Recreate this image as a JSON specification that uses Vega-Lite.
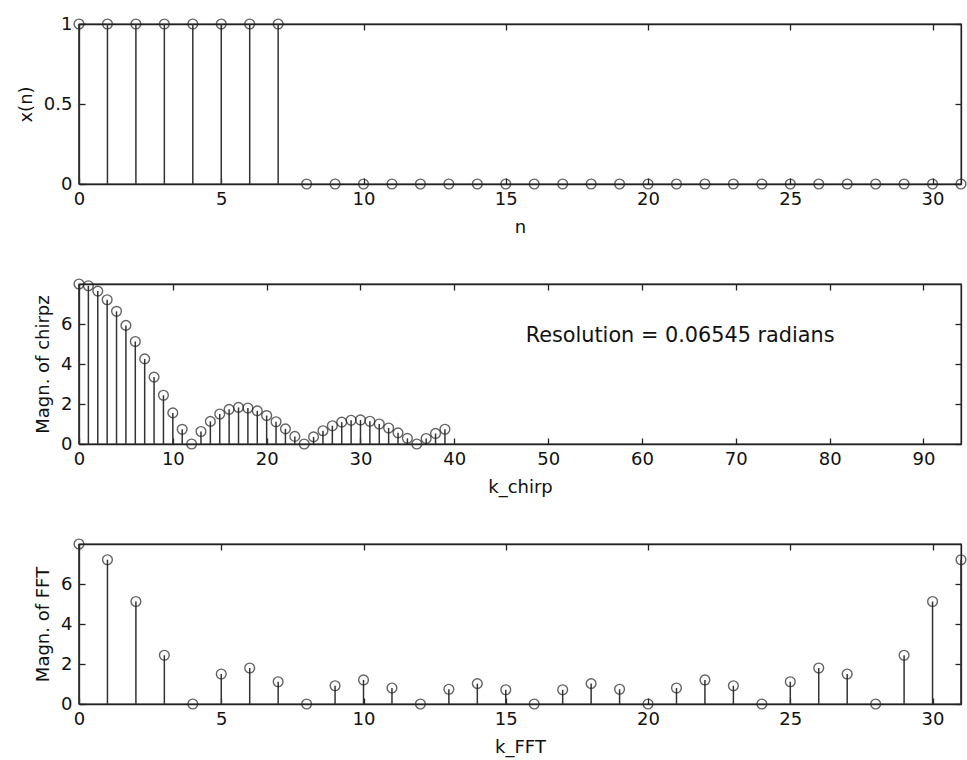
{
  "$schema": "https://vega.github.io/schema/vega-lite/v6.json",
  "background": "white",
  "padding": {"left": 16, "top": 14, "right": 0, "bottom": 2},
  "autosize": {"type": "pad"},
  "config": {
    "font": "DejaVu Sans",
    "view": {"stroke": "#222", "strokeWidth": 1.3},
    "axis": {
      "grid": false,
      "labelFont": "DejaVu Sans", "labelFontSize": 18, "labelColor": "#111",
      "titleFont": "DejaVu Sans", "titleFontSize": 18, "titleFontWeight": "normal", "titleColor": "#111",
      "domainColor": "#222", "domainWidth": 1.3, "tickColor": "#222", "tickWidth": 1.3, "tickSize": -6,
      "labelFlush": false, "labelOverlap": false, "labelBound": false
    },
    "axisX": {"labelPadding": 12, "titlePadding": 10},
    "axisY": {"labelPadding": 13, "titlePadding": 8}
  },
  "datasets": {
    "xn": [
      {"n":0,"x":1},{"n":1,"x":1},{"n":2,"x":1},{"n":3,"x":1},{"n":4,"x":1},{"n":5,"x":1},{"n":6,"x":1},{"n":7,"x":1},
      {"n":8,"x":0},{"n":9,"x":0},{"n":10,"x":0},{"n":11,"x":0},{"n":12,"x":0},{"n":13,"x":0},{"n":14,"x":0},{"n":15,"x":0},
      {"n":16,"x":0},{"n":17,"x":0},{"n":18,"x":0},{"n":19,"x":0},{"n":20,"x":0},{"n":21,"x":0},{"n":22,"x":0},{"n":23,"x":0},
      {"n":24,"x":0},{"n":25,"x":0},{"n":26,"x":0},{"n":27,"x":0},{"n":28,"x":0},{"n":29,"x":0},{"n":30,"x":0},{"n":31,"x":0}
    ],
    "cz": [
      {"k":0,"m":8.0},{"k":1,"m":7.9104},{"k":2,"m":7.6449},{"k":3,"m":7.2141},{"k":4,"m":6.6349},{"k":5,"m":5.9298},
      {"k":6,"m":5.1258},{"k":7,"m":4.2538},{"k":8,"m":3.3461},{"k":9,"m":2.4359},{"k":10,"m":1.5555},{"k":11,"m":0.7348},
      {"k":12,"m":0.0},{"k":13,"m":0.6271},{"k":14,"m":1.1305},{"k":15,"m":1.5},{"k":16,"m":1.7321},{"k":17,"m":1.8291},
      {"k":18,"m":1.8},{"k":19,"m":1.6583},{"k":20,"m":1.4226},{"k":21,"m":1.1146},{"k":22,"m":0.7583},{"k":23,"m":0.3786},
      {"k":24,"m":0.0},{"k":25,"m":0.3546},{"k":26,"m":0.665},{"k":27,"m":0.9147},{"k":28,"m":1.0916},{"k":29,"m":1.1883},
      {"k":30,"m":1.2027},{"k":31,"m":1.1374},{"k":32,"m":1.0},{"k":33,"m":0.8018},{"k":34,"m":0.5575},{"k":35,"m":0.2841},
      {"k":36,"m":0.0},{"k":37,"m":0.2765},{"k":38,"m":0.528},{"k":39,"m":0.7389}
    ],
    "fft": [
      {"k":0,"m":8.0},{"k":1,"m":7.2141},{"k":2,"m":5.1258},{"k":3,"m":2.4359},{"k":4,"m":0.0},{"k":5,"m":1.5},
      {"k":6,"m":1.8},{"k":7,"m":1.1146},{"k":8,"m":0.0},{"k":9,"m":0.9147},{"k":10,"m":1.2027},{"k":11,"m":0.8018},
      {"k":12,"m":0.0},{"k":13,"m":0.7389},{"k":14,"m":1.0196},{"k":15,"m":0.7105},{"k":16,"m":0.0},{"k":17,"m":0.7105},
      {"k":18,"m":1.0196},{"k":19,"m":0.7389},{"k":20,"m":0.0},{"k":21,"m":0.8018},{"k":22,"m":1.2027},{"k":23,"m":0.9147},
      {"k":24,"m":0.0},{"k":25,"m":1.1146},{"k":26,"m":1.8},{"k":27,"m":1.5},{"k":28,"m":0.0},{"k":29,"m":2.4359},
      {"k":30,"m":5.1258},{"k":31,"m":7.2141}
    ],
    "note": [{"k":47.6,"m":5.4,"t":"Resolution = 0.06545 radians"}]
  },
  "bounds": "flush",
  "spacing": 100,
  "vconcat": [
    {
      "width": 882, "height": 160,
      "data": {"name": "xn"},
      "layer": [
        {
          "mark": {"type": "rule", "color": "#333", "strokeWidth": 1.5},
          "encoding": {
            "x": {"field": "n", "type": "quantitative", "scale": {"domain": [0, 31], "nice": false, "zero": false},
                  "axis": {"orient": "bottom", "values": [0,5,10,15,20,25,30], "title": "n"}},
            "y": {"field": "x", "type": "quantitative", "scale": {"domain": [0, 1], "nice": false},
                  "axis": {"orient": "left", "values": [0,0.5,1], "format": "~g", "title": "x(n)"}},
            "y2": {"datum": 0}
          }
        },
        {
          "mark": {"type": "point", "shape": "circle", "filled": false, "size": 95, "color": "#222", "strokeWidth": 1.4},
          "encoding": {
            "x": {"field": "n", "type": "quantitative", "scale": {"domain": [0, 31], "nice": false, "zero": false},
                  "axis": {"orient": "top", "values": [0,5,10,15,20,25,30], "labels": false, "title": null}},
            "y": {"field": "x", "type": "quantitative", "scale": {"domain": [0, 1], "nice": false},
                  "axis": {"orient": "right", "values": [0,0.5,1], "labels": false, "title": null}}
          }
        }
      ],
      "resolve": {"axis": {"x": "independent", "y": "independent"}}
    },
    {
      "width": 882, "height": 160,
      "layer": [
        {
          "data": {"name": "cz"},
          "mark": {"type": "rule", "color": "#333", "strokeWidth": 1.5},
          "encoding": {
            "x": {"field": "k", "type": "quantitative", "scale": {"domain": [0, 94], "nice": false, "zero": false},
                  "axis": {"orient": "bottom", "values": [0,10,20,30,40,50,60,70,80,90], "title": "k_chirp"}},
            "y": {"field": "m", "type": "quantitative", "scale": {"domain": [0, 8], "nice": false},
                  "axis": {"orient": "left", "values": [0,2,4,6], "title": "Magn. of chirpz"}},
            "y2": {"datum": 0}
          }
        },
        {
          "data": {"name": "cz"},
          "mark": {"type": "point", "shape": "circle", "filled": false, "size": 95, "color": "#222", "strokeWidth": 1.4},
          "encoding": {
            "x": {"field": "k", "type": "quantitative", "scale": {"domain": [0, 94], "nice": false, "zero": false},
                  "axis": {"orient": "top", "values": [0,10,20,30,40,50,60,70,80,90], "labels": false, "title": null}},
            "y": {"field": "m", "type": "quantitative", "scale": {"domain": [0, 8], "nice": false},
                  "axis": {"orient": "right", "values": [0,2,4,6], "labels": false, "title": null}}
          }
        },
        {
          "data": {"name": "note"},
          "mark": {"type": "text", "align": "left", "baseline": "middle", "fontSize": 20.8, "font": "DejaVu Sans", "color": "#111"},
          "encoding": {
            "x": {"field": "k", "type": "quantitative", "axis": null},
            "y": {"field": "m", "type": "quantitative", "axis": null},
            "text": {"field": "t"}
          }
        }
      ],
      "resolve": {"axis": {"x": "independent", "y": "independent"}}
    },
    {
      "width": 882, "height": 160,
      "data": {"name": "fft"},
      "layer": [
        {
          "mark": {"type": "rule", "color": "#333", "strokeWidth": 1.5},
          "encoding": {
            "x": {"field": "k", "type": "quantitative", "scale": {"domain": [0, 31], "nice": false, "zero": false},
                  "axis": {"orient": "bottom", "values": [0,5,10,15,20,25,30], "title": "k_FFT"}},
            "y": {"field": "m", "type": "quantitative", "scale": {"domain": [0, 8], "nice": false},
                  "axis": {"orient": "left", "values": [0,2,4,6], "title": "Magn. of FFT"}},
            "y2": {"datum": 0}
          }
        },
        {
          "mark": {"type": "point", "shape": "circle", "filled": false, "size": 95, "color": "#222", "strokeWidth": 1.4},
          "encoding": {
            "x": {"field": "k", "type": "quantitative", "scale": {"domain": [0, 31], "nice": false, "zero": false},
                  "axis": {"orient": "top", "values": [0,5,10,15,20,25,30], "labels": false, "title": null}},
            "y": {"field": "m", "type": "quantitative", "scale": {"domain": [0, 8], "nice": false},
                  "axis": {"orient": "right", "values": [0,2,4,6], "labels": false, "title": null}}
          }
        }
      ],
      "resolve": {"axis": {"x": "independent", "y": "independent"}}
    }
  ]
}
